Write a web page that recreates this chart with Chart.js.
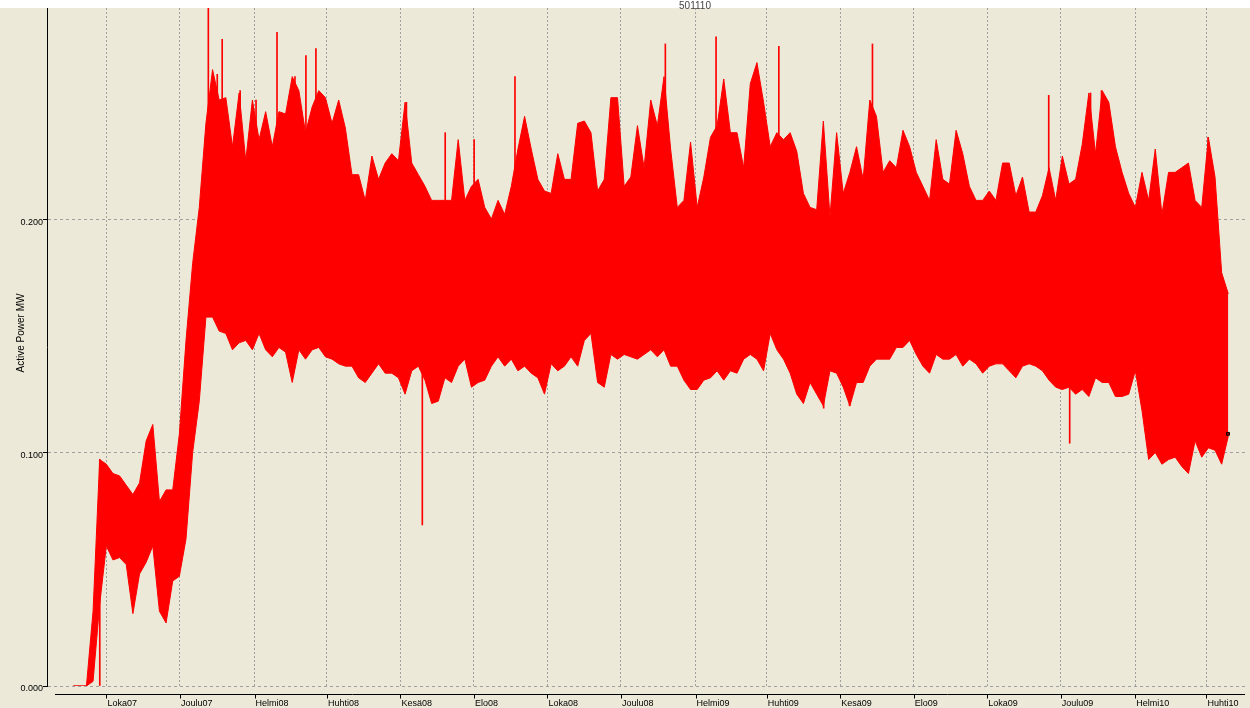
<!DOCTYPE html>
<html lang="fi">
<head>
<meta charset="utf-8">
<title>501110 – Active Power MW</title>
<script src="https://cdn.jsdelivr.net/npm/chart.js@4.4.1/dist/chart.umd.min.js"></script>
<style>
  html, body { margin: 0; padding: 0; background: #ECE9D8; overflow: hidden; }
  #wrap { width: 1250px; height: 708px; }
</style>
</head>
<body>
<div id="wrap"><canvas id="chart" width="1250" height="708"></canvas></div>
<script>
'use strict';

/* ── Data ───────────────────────────────────────────────────────── */
// x values are days counted from 1 Oct 2007 (Loka07).
const chartTitle = '501110';
const yAxisTitle = 'Active Power MW';

const monthLabels = ['Loka07', 'Joulu07', 'Helmi08', 'Huhti08', 'Kesä08', 'Elo08',
  'Loka08', 'Joulu08', 'Helmi09', 'Huhti09', 'Kesä09', 'Elo09',
  'Loka09', 'Joulu09', 'Helmi10', 'Huhti10'];
const monthTickDays = [0, 61, 123, 183, 244, 305, 366, 427, 489, 548, 609, 670, 731, 792, 854, 913];
const yTicks = [0, 0.1, 0.2];

// The trace is far too dense to read point by point, so it is read as an
// envelope: highest and lowest value in each slice of ~5.5 days.
const firstSliceDay = -27.6;
const sliceDays = 5.51;

const envelopeHigh = [
  0, 0, 0, 0.032, 0.097, 0.095, 0.091, 0.090, 0.086, 0.082, 0.087, 0.105, 0.112, 0.079, 0.084, 0.084,
  0.108, 0.148, 0.181, 0.205, 0.241, 0.264, 0.251, 0.252, 0.231, 0.254, 0.225, 0.251, 0.234, 0.246,
  0.231, 0.246, 0.245,
  0.261, 0.255, 0.237, 0.248, 0.255, 0.252, 0.241, 0.251, 0.239, 0.219, 0.219, 0.208, 0.227, 0.217,
  0.224, 0.228, 0.225, 0.250, 0.224, 0.219, 0.214, 0.208, 0.208, 0.208, 0.208, 0.234, 0.208, 0.214,
  0.217, 0.205, 0.200, 0.208, 0.202, 0.214, 0.230, 0.244,
  0.230, 0.217, 0.212, 0.211, 0.228, 0.217, 0.217, 0.241, 0.242, 0.237, 0.212, 0.217, 0.252, 0.252,
  0.214, 0.218, 0.240, 0.222, 0.251, 0.240, 0.261, 0.230, 0.205, 0.208, 0.233, 0.205, 0.218, 0.235,
  0.240, 0.260, 0.237, 0.237, 0.222, 0.258, 0.267, 0.250,
  0.231, 0.237, 0.234, 0.237, 0.229, 0.211, 0.205, 0.204, 0.242, 0.201, 0.237, 0.211, 0.220, 0.231,
  0.217, 0.251, 0.244, 0.220, 0.225, 0.222, 0.238, 0.231, 0.220, 0.214, 0.208, 0.234, 0.217, 0.215,
  0.238, 0.228, 0.214, 0.208, 0.208, 0.212, 0.208, 0.224,
  0.224, 0.210, 0.218, 0.203, 0.203, 0.210, 0.222, 0.208, 0.227, 0.215, 0.217, 0.232, 0.254, 0.228,
  0.255, 0.250, 0.231, 0.220, 0.211, 0.205, 0.220, 0.208, 0.230, 0.202, 0.220, 0.220, 0.222, 0.224,
  0.208, 0.205, 0.235, 0.218, 0.177, 0.168,
];

const envelopeLow = [
  0, 0, 0, 0.002, 0.035, 0.060, 0.054, 0.055, 0.052, 0.031, 0.048, 0.053, 0.060, 0.032, 0.027, 0.045,
  0.047, 0.063, 0.100, 0.122, 0.158, 0.158, 0.152, 0.151, 0.144, 0.147, 0.148, 0.144, 0.151, 0.144,
  0.141, 0.145, 0.143,
  0.130, 0.144, 0.140, 0.144, 0.145, 0.141, 0.140, 0.138, 0.137, 0.137, 0.132, 0.130, 0.134, 0.138,
  0.134, 0.134, 0.132, 0.125, 0.135, 0.137, 0.131, 0.121, 0.122, 0.132, 0.130, 0.137, 0.140, 0.128,
  0.130, 0.131, 0.137, 0.141, 0.137, 0.140, 0.135, 0.137,
  0.134, 0.132, 0.125, 0.138, 0.135, 0.137, 0.141, 0.137, 0.148, 0.151, 0.130, 0.128, 0.142, 0.140,
  0.142, 0.141, 0.140, 0.142, 0.144, 0.141, 0.144, 0.137, 0.137, 0.131, 0.127, 0.127, 0.131, 0.132,
  0.135, 0.131, 0.135, 0.134, 0.140, 0.142, 0.140, 0.135,
  0.151, 0.144, 0.140, 0.134, 0.125, 0.121, 0.130, 0.125, 0.120, 0.135, 0.134, 0.128, 0.120, 0.130,
  0.130, 0.137, 0.140, 0.140, 0.140, 0.145, 0.145, 0.148, 0.142, 0.137, 0.134, 0.142, 0.140, 0.140,
  0.142, 0.137, 0.140, 0.138, 0.134, 0.137, 0.138, 0.138,
  0.135, 0.132, 0.137, 0.138, 0.137, 0.135, 0.131, 0.128, 0.127, 0.128, 0.125, 0.127, 0.124, 0.132,
  0.130, 0.130, 0.124, 0.124, 0.125, 0.135, 0.118, 0.097, 0.100, 0.095, 0.097, 0.098, 0.094, 0.091,
  0.105, 0.098, 0.102, 0.101, 0.095, 0.107,
];

// Single readings that stick out of the envelope.
const spikeDays = [-5.5, 84.6, 92.0, 96.1, 111.0, 124.2, 141.6, 156.5, 165.6, 173.9, 249.0, 262.2,
  281.2, 305.2, 339.1, 463.9, 506.0, 537.5, 558.1, 595.3, 616.8, 635.8, 782.1, 799.5, 816.8, 825.9, 914.4];
const spikeLow = [0, 0.20, 0.20, 0.20, 0.20, 0.20, 0.20, 0.20, 0.20, 0.20, 0.20, 0.069,
  0.19, 0.19, 0.20, 0.20, 0.20, 0.20, 0.20, 0.119, 0.120, 0.20, 0.19, 0.104, 0.20, 0.20, 0.19];
const spikeHigh = [0.097, 0.295, 0.262, 0.277, 0.255, 0.251, 0.280, 0.261, 0.270, 0.273, 0.250, 0.19,
  0.237, 0.234, 0.261, 0.275, 0.278, 0.258, 0.274, 0.17, 0.17, 0.275, 0.253, 0.17, 0.254, 0.255, 0.235];

const lastDay = 930.9;
const lastValue = 0.108;

/* ── Frame: background, bottom axis, titles ─────────────────────── */
const FONT = '"Liberation Sans", Arial, sans-serif';

const framePlugin = {
  id: 'frame',
  beforeDraw(chart) {
    const { ctx, width, height } = chart;
    ctx.save();
    ctx.fillStyle = '#ECE9D8';
    ctx.fillRect(0, 0, width, height);
    ctx.fillStyle = '#FFFFFF';
    ctx.fillRect(0, 0, width, 8);
    ctx.restore();
  },
  afterDraw(chart) {
    const { ctx, chartArea: a, scales: { x } } = chart;
    ctx.save();
    // detached x axis line, a few px under the plot
    const axisY = a.bottom + 8.5;
    ctx.strokeStyle = '#000';
    ctx.lineWidth = 1;
    ctx.beginPath();
    ctx.moveTo(a.left + 8, axisY);
    ctx.lineTo(a.right, axisY);
    monthTickDays.forEach(d => {
      const px = Math.round(x.getPixelForValue(d)) + 0.5;
      ctx.moveTo(px, axisY);
      ctx.lineTo(px, axisY + 4);
    });
    ctx.stroke();

    // top title, partly cut off by the window edge
    ctx.fillStyle = '#444';
    ctx.font = '10px ' + FONT;
    ctx.textAlign = 'center';
    ctx.textBaseline = 'alphabetic';
    ctx.fillText(chartTitle, 695, 9);

    // y axis title
    ctx.fillStyle = '#000';
    ctx.translate(21, 333);
    ctx.rotate(-Math.PI / 2);
    ctx.textBaseline = 'middle';
    ctx.fillText(yAxisTitle, 0, 0);
    ctx.restore();
  },
};

/* ── Chart ──────────────────────────────────────────────────────── */
const sliceX = envelopeHigh.map((_, i) => firstSliceDay + i * sliceDays);
const RED = '#FF0000';

new Chart(document.getElementById('chart'), {
  type: 'line',
  data: {
    datasets: [
      {
        label: 'high',
        data: envelopeHigh.map((v, i) => ({ x: sliceX[i], y: v })),
        borderColor: RED,
        backgroundColor: RED,
        borderWidth: 1,
        pointRadius: 0,
        tension: 0,
        fill: '+1',
      },
      {
        label: 'low',
        data: envelopeLow.map((v, i) => ({ x: sliceX[i], y: v })),
        borderColor: RED,
        borderWidth: 1,
        pointRadius: 0,
        tension: 0,
        fill: false,
      },
      {
        type: 'bar',
        label: 'spikes',
        data: spikeDays.map((d, i) => ({ x: d, y: [spikeLow[i], spikeHigh[i]] })),
        backgroundColor: RED,
        barThickness: 1,
      },
      {
        label: 'last',
        data: [{ x: lastDay, y: lastValue }],
        showLine: false,
        pointStyle: 'rect',
        pointRadius: 2,
        pointBorderWidth: 1,
        pointBorderColor: '#000',
        pointBackgroundColor: '#B00000',
        order: -1,
      },
    ],
  },
  options: {
    responsive: false,
    animation: false,
    events: [],
    layout: { padding: { top: 8, right: 0, left: 0, bottom: 0 } },
    plugins: {
      legend: { display: false },
      tooltip: { enabled: false },
      title: { display: false },
    },
    scales: {
      x: {
        type: 'linear',
        min: -49.3,
        max: 945,
        offset: false,
        afterFit: s => { s.height = 22; },
        afterBuildTicks: s => { s.ticks = monthTickDays.map(v => ({ value: v })); },
        grid: {
          color: '#A0A0A0',
          drawTicks: false,
          offset: false,
        },
        border: { display: false, dash: [2, 2] },
        ticks: {
          autoSkip: false,
          maxRotation: 0,
          align: 'start',
          padding: 12,
          labelOffset: 1,
          color: '#000',
          font: { family: FONT, size: 9 },
          callback: (v, i) => monthLabels[i],
        },
      },
      y: {
        min: 0,
        max: 0.2904,
        afterFit: s => { s.width = 47; },
        afterBuildTicks: s => { s.ticks = yTicks.map(v => ({ value: v })); },
        grid: {
          color: '#A0A0A0',
          tickColor: '#000',
          tickLength: 4,
          tickBorderDash: [],
        },
        border: { display: true, color: '#000', width: 1, dash: [3, 3] },
        ticks: {
          padding: 0,
          labelOffset: 3,
          color: '#000',
          font: { family: FONT, size: 9 },
          callback: v => v.toFixed(3),
        },
      },
    },
  },
  plugins: [framePlugin],
});
</script>
</body>
</html>
